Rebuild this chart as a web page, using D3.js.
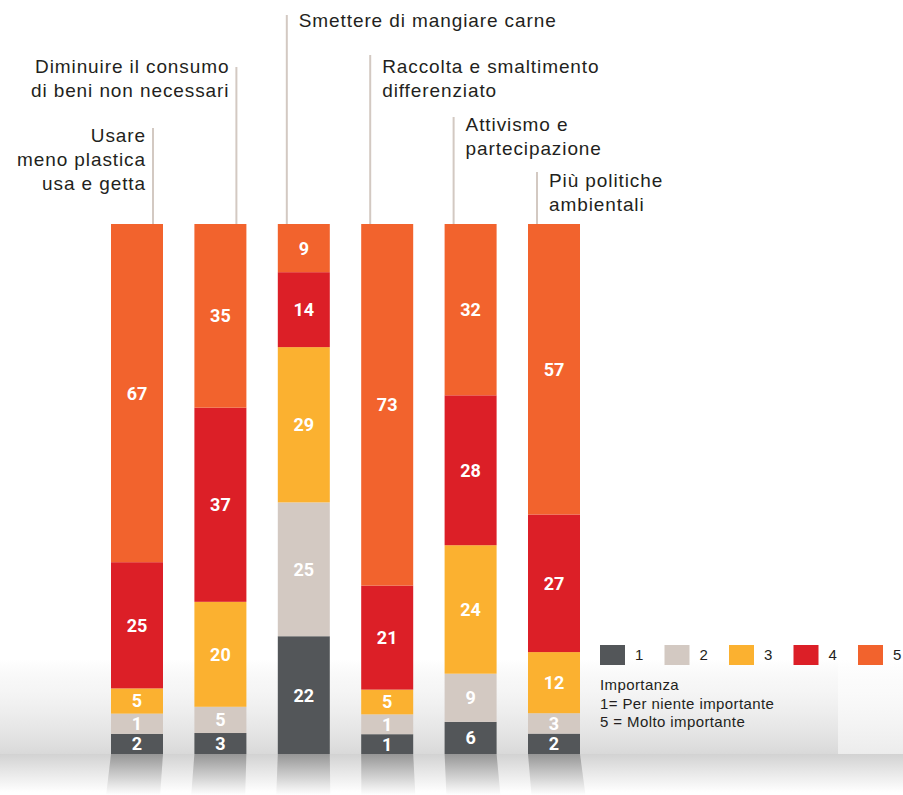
<!DOCTYPE html>
<html>
<head>
<meta charset="utf-8">
<script src="https://cdn.jsdelivr.net/npm/d3@7"></script>
<style>
  body { margin: 0; background: #fff; }
  svg { display: block; }
  .cat { font-family: "Liberation Sans", Arial, sans-serif; font-size: 19px; letter-spacing: 0.9px; fill: #231f20; }
  .val { font-family: Roboto, "Liberation Sans", sans-serif; font-weight: 700; font-size: 18px; fill: #fff; }
  .leg { font-family: "Liberation Sans", Arial, sans-serif; font-size: 15px; letter-spacing: 0.4px; fill: #231f20; }
</style>
</head>
<body>
<svg id="chart" width="903" height="795"></svg>
<script>
// data
const categories = ["Usare meno plastica usa e getta", "Diminuire il consumo di beni non necessari",
  "Smettere di mangiare carne", "Raccolta e smaltimento differenziato",
  "Attivismo e partecipazione", "Più politiche ambientali"];
const labelLines = [
  ["Usare", "meno plastica", "usa e getta"],
  ["Diminuire il consumo", "di beni non necessari"],
  ["Smettere di mangiare carne"],
  ["Raccolta e smaltimento", "differenziato"],
  ["Attivismo e", "partecipazione"],
  ["Più politiche", "ambientali"]
];
const level1 = [2, 3, 22, 1, 6, 2];
const level2 = [1, 5, 25, 1, 9, 3];
const level3 = [5, 20, 29, 5, 24, 12];
const level4 = [25, 37, 14, 21, 28, 27];
const level5 = [67, 35, 9, 73, 32, 57];
const levels = ["1", "2", "3", "4", "5"];
const legendNote = ["Importanza", "1= Per niente importante", "5 = Molto importante"];

// layout
const leaderTop = [128, 67, 15, 55, 117, 172];
const labelBaseline = [142, 73, 27, 73, 131, 187];
const labelOnLeft = [true, true, false, false, false, false];
const colors = ["#535659", "#d3c9c2", "#fbb130", "#dc1f27", "#f2632d"];
const MIN_SHOWN = 4; // tiny shares are drawn a bit taller, as in the original
const barTop = 224, barBase = 754;

const series = [level1, level2, level3, level4, level5];
const rows = categories.map((c, i) => {
  let r = { cat: c };
  levels.forEach((k, j) => r[k] = series[j][i]);
  return r;
});

const svg = d3.select("#chart");
const defs = svg.append("defs");

function vgrad(id, stops, y1, y2) {
  let g = defs.append("linearGradient").attr("id", id)
    .attr("gradientUnits", "userSpaceOnUse")
    .attr("x1", 0).attr("x2", 0).attr("y1", y1).attr("y2", y2);
  stops.forEach(s => g.append("stop").attr("offset", s[0]).attr("stop-color", s[1]).attr("stop-opacity", s[2]));
}
vgrad("floor", [[0, "#dcdcdc", 0], [0.3, "#e8e8e8", 0.4], [1, "#d9d9d9", 1]], 660, barBase);
vgrad("under", [[0, "#d2d2d2", 1], [1, "#ffffff", 1]], barBase, 792);
vgrad("refl", [[0, "#969696", 1], [1, "#ffffff", 1]], barBase, 795);

// floor behind the bars
svg.append("rect").attr("x", 0).attr("y", 660).attr("width", 838).attr("height", barBase - 660).attr("fill", "url(#floor)");
svg.append("rect").attr("x", 838).attr("y", 660).attr("width", 65).attr("height", barBase - 660).attr("fill", "url(#floor)").attr("opacity", 0.5);
svg.append("rect").attr("x", 0).attr("y", barBase).attr("width", 903).attr("height", 795 - barBase).attr("fill", "url(#under)");

const x = d3.scaleBand().domain(categories).range([111, 580]).paddingInner(0.3765).paddingOuter(0);
const y = d3.scaleLinear().domain([0, 1]).range([barBase, barTop]);
const bw = x.bandwidth();

const stack = d3.stack().keys(levels)
  .value((d, k) => Math.max(d[k], MIN_SHOWN))
  .offset(d3.stackOffsetExpand);
const stacked = stack(rows);

// reflections
svg.append("g").selectAll("path").data(categories).enter().append("path")
  .attr("d", c => {
    let x0 = x(c), cx = x0 + bw / 2, dx = (cx - 330) * 0.02;
    return `M${x0},${barBase}L${x0 + bw},${barBase}L${x0 + bw + dx + 1},795L${x0 + dx - 1},795Z`;
  })
  .attr("fill", "url(#refl)");

// bars
const layer = svg.append("g").selectAll("g").data(stacked).enter().append("g")
  .attr("fill", (d, i) => colors[i]);

layer.selectAll("rect").data(d => d).enter().append("rect")
  .attr("x", d => x(d.data.cat))
  .attr("y", d => y(d[1]))
  .attr("width", bw)
  .attr("height", d => y(d[0]) - y(d[1]));

layer.selectAll("text").data(d => d.map(p => ({ p: p, key: d.key }))).enter().append("text")
  .attr("class", "val")
  .attr("text-anchor", "middle")
  .attr("x", d => x(d.p.data.cat) + bw / 2)
  .attr("y", d => (y(d.p[0]) + y(d.p[1])) / 2)
  .attr("dy", "0.36em")
  .text(d => d.p.data[d.key]);

// category labels with leader lines
categories.forEach((c, i) => {
  let lx = labelOnLeft[i] ? x(c) + bw - 10 : x(c) + 9;
  svg.append("line")
    .attr("x1", lx).attr("x2", lx)
    .attr("y1", leaderTop[i]).attr("y2", barTop)
    .attr("stroke", "#d3c9c2").attr("stroke-width", 2);
  let t = svg.append("text").attr("class", "cat")
    .attr("text-anchor", labelOnLeft[i] ? "end" : "start")
    .attr("y", labelBaseline[i]);
  labelLines[i].forEach((s, j) => {
    t.append("tspan")
      .attr("x", labelOnLeft[i] ? lx - 7 : lx + 12)
      .attr("y", labelBaseline[i] + j * 24)
      .text(s);
  });
});

// legend
const legX = d3.scalePoint().domain(levels).range([600, 858]);
const leg = svg.append("g").selectAll("g").data(levels).enter().append("g");
leg.append("rect")
  .attr("x", d => legX(d)).attr("y", 645)
  .attr("width", 25).attr("height", 20)
  .attr("fill", (d, i) => colors[i]);
leg.append("text").attr("class", "leg")
  .attr("x", d => legX(d) + 35).attr("y", 660)
  .text(d => d);

svg.append("g").selectAll("text").data(legendNote).enter().append("text")
  .attr("class", "leg")
  .attr("x", 600)
  .attr("y", (d, i) => 690 + i * 18.5)
  .text(d => d);
</script>
</body>
</html>
